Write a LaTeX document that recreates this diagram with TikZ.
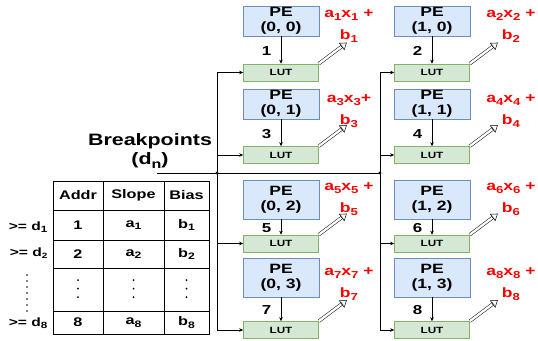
\documentclass[tikz,border=0pt]{standalone}
\usepackage{fontspec}
\setmainfont{Liberation Sans}[FakeStretch=1.3]
\usepackage{graphicx}
\usepackage{tikz}
\usetikzlibrary{arrows.meta, positioning, calc}

\definecolor{peblue}{HTML}{DAE8FC}
\definecolor{peline}{HTML}{6C8EBF}
\definecolor{lutgreen}{HTML}{D5E8D4}
\definecolor{lutline}{HTML}{82B366}
\definecolor{outred}{HTML}{FF0000}

\newcommand{\lowsub}[1]{\raisebox{-0.4ex}{\scalebox{0.75}{#1}}}

\tikzset{
  pe/.style={draw=peline, fill=peblue, minimum width=76pt, inner sep=0pt,
             align=center, font=\fontsize{13.5}{15}\selectfont\bfseries},
  lut/.style={draw=lutline, fill=lutgreen, minimum width=75pt, minimum height=17pt,
              inner sep=0pt, font=\fontsize{9}{10}\selectfont\bfseries},
  outlbl/.style={text=outred, align=center, font=\fontsize{13.5}{22}\selectfont\bfseries},
  idx/.style={anchor=east, font=\fontsize{13}{13}\selectfont\bfseries},
  tbl/.style={font=\fontsize{12.5}{13}\selectfont\bfseries},
  cond/.style={anchor=east, font=\fontsize{12}{12}\selectfont\bfseries},
  wire/.style={-{Stealth[length=4pt,width=3.5pt]}, line width=0.6pt},
  dblshaft/.style={double, double distance=2.3pt, line width=0.5pt, shorten >=5.5pt},
  dblhead/.style={line width=0.5pt, -{Triangle[open, length=6.5pt, width=9pt]}},
}

\begin{document}
\begin{tikzpicture}[x=1pt, y=-1pt, line width=0.6pt]
  \useasboundingbox (0,0) rectangle (538,340);

  % processing elements with their LUTs
  \foreach \r/\py/\ph/\ly/\oy in {0/21/30/72.5/26, 1/104/30/155/111,
                                  2/199.5/39/243.5/199, 3/277.5/39/330/284}
  \foreach \c in {0,1} {
    \pgfmathtruncatemacro\n{2*\r+\c+1}
    \node[pe, minimum height=\ph pt] (pe\c\r) at ({281+151*\c},\py) {PE\\(\c, \r)};
    \node[lut] (lut\c\r) at ({281+151*\c},\ly) {LUT};
    \draw[wire] (pe\c\r) -- (lut\c\r);
    \node[idx] (n\c\r) at ($(pe\c\r.south)!0.55!(lut\c\r.north)+(-6,0)$) {\n};
    \node[outlbl] (out\c\r) at ({349+162*\c},\oy)
      {a\lowsub{\n}x\lowsub{\n}\ifnum\n=3 +\else\ +\fi\\b\lowsub{\n}};
    \coordinate (tip\c\r) at ($(lut\c\r.north east)+(28,-21)$);
    \draw[dblshaft] (lut\c\r.north east) -- (tip\c\r);
    \draw[dblhead] ($(lut\c\r.north east)!0.8!(tip\c\r)$) -- (tip\c\r);
  }

  % breakpoint bus
  \node[align=center, font=\fontsize{16.5}{19}\selectfont\bfseries] (bp) at (150,151)
    {Breakpoints\\(d\lowsub{n})};
  \coordinate (bpend) at (157,173);
  \coordinate (bus0) at (217,173);
  \coordinate (bus1) at (380,173);
  \draw (bpend) -- (bus1);
  \fill (bus0) circle (1.6pt);
  \fill (bus1) circle (1.6pt);
  \foreach \c in {0,1} {
    \draw (bus\c |- lut\c0) -- (bus\c |- lut\c3);
    \foreach \r in {0,...,3}
      \draw[wire] (bus\c |- lut\c\r) -- (lut\c\r.west);
  }

  % breakpoint table
  \draw (53,181) rectangle (209,334);
  \draw (103,181) -- (103,334);
  \draw (164,181) -- (164,334);
  \foreach \y in {210,240,268,311}
    \draw (53,\y) -- (209,\y);
  \node[tbl] (haddr) at (78,195.5) {Addr};
  \node[tbl] (hslope) at (133.5,195.5) {Slope};
  \node[tbl] (hbias) at (186.5,195.5) {Bias};
  \foreach \k/\y in {1/225, 2/254, 8/322.5} {
    \node[tbl] (addr\k) at (78,\y) {\k};
    \node[tbl] (slope\k) at (133.5,\y) {a\lowsub{\k}};
    \node[tbl] (bias\k) at (186.5,\y) {b\lowsub{\k}};
  }
  \foreach \x in {78,133.5,186.5}
    \foreach \y in {280,288.5,297}
      \fill (\x,\y) circle (1pt);

  % conditions
  \node[cond] (ge1) at (51,227) {>= d\lowsub{1}};
  \node[cond] (ge2) at (51,253) {>= d\lowsub{\scalebox{0.85}{2}}};
  \node[cond] (ge8) at (51,323) {>= d\lowsub{8}};
  \foreach \y in {275,281,...,312}
    \fill (27,\y) circle (0.9pt);
\end{tikzpicture}
\end{document}
